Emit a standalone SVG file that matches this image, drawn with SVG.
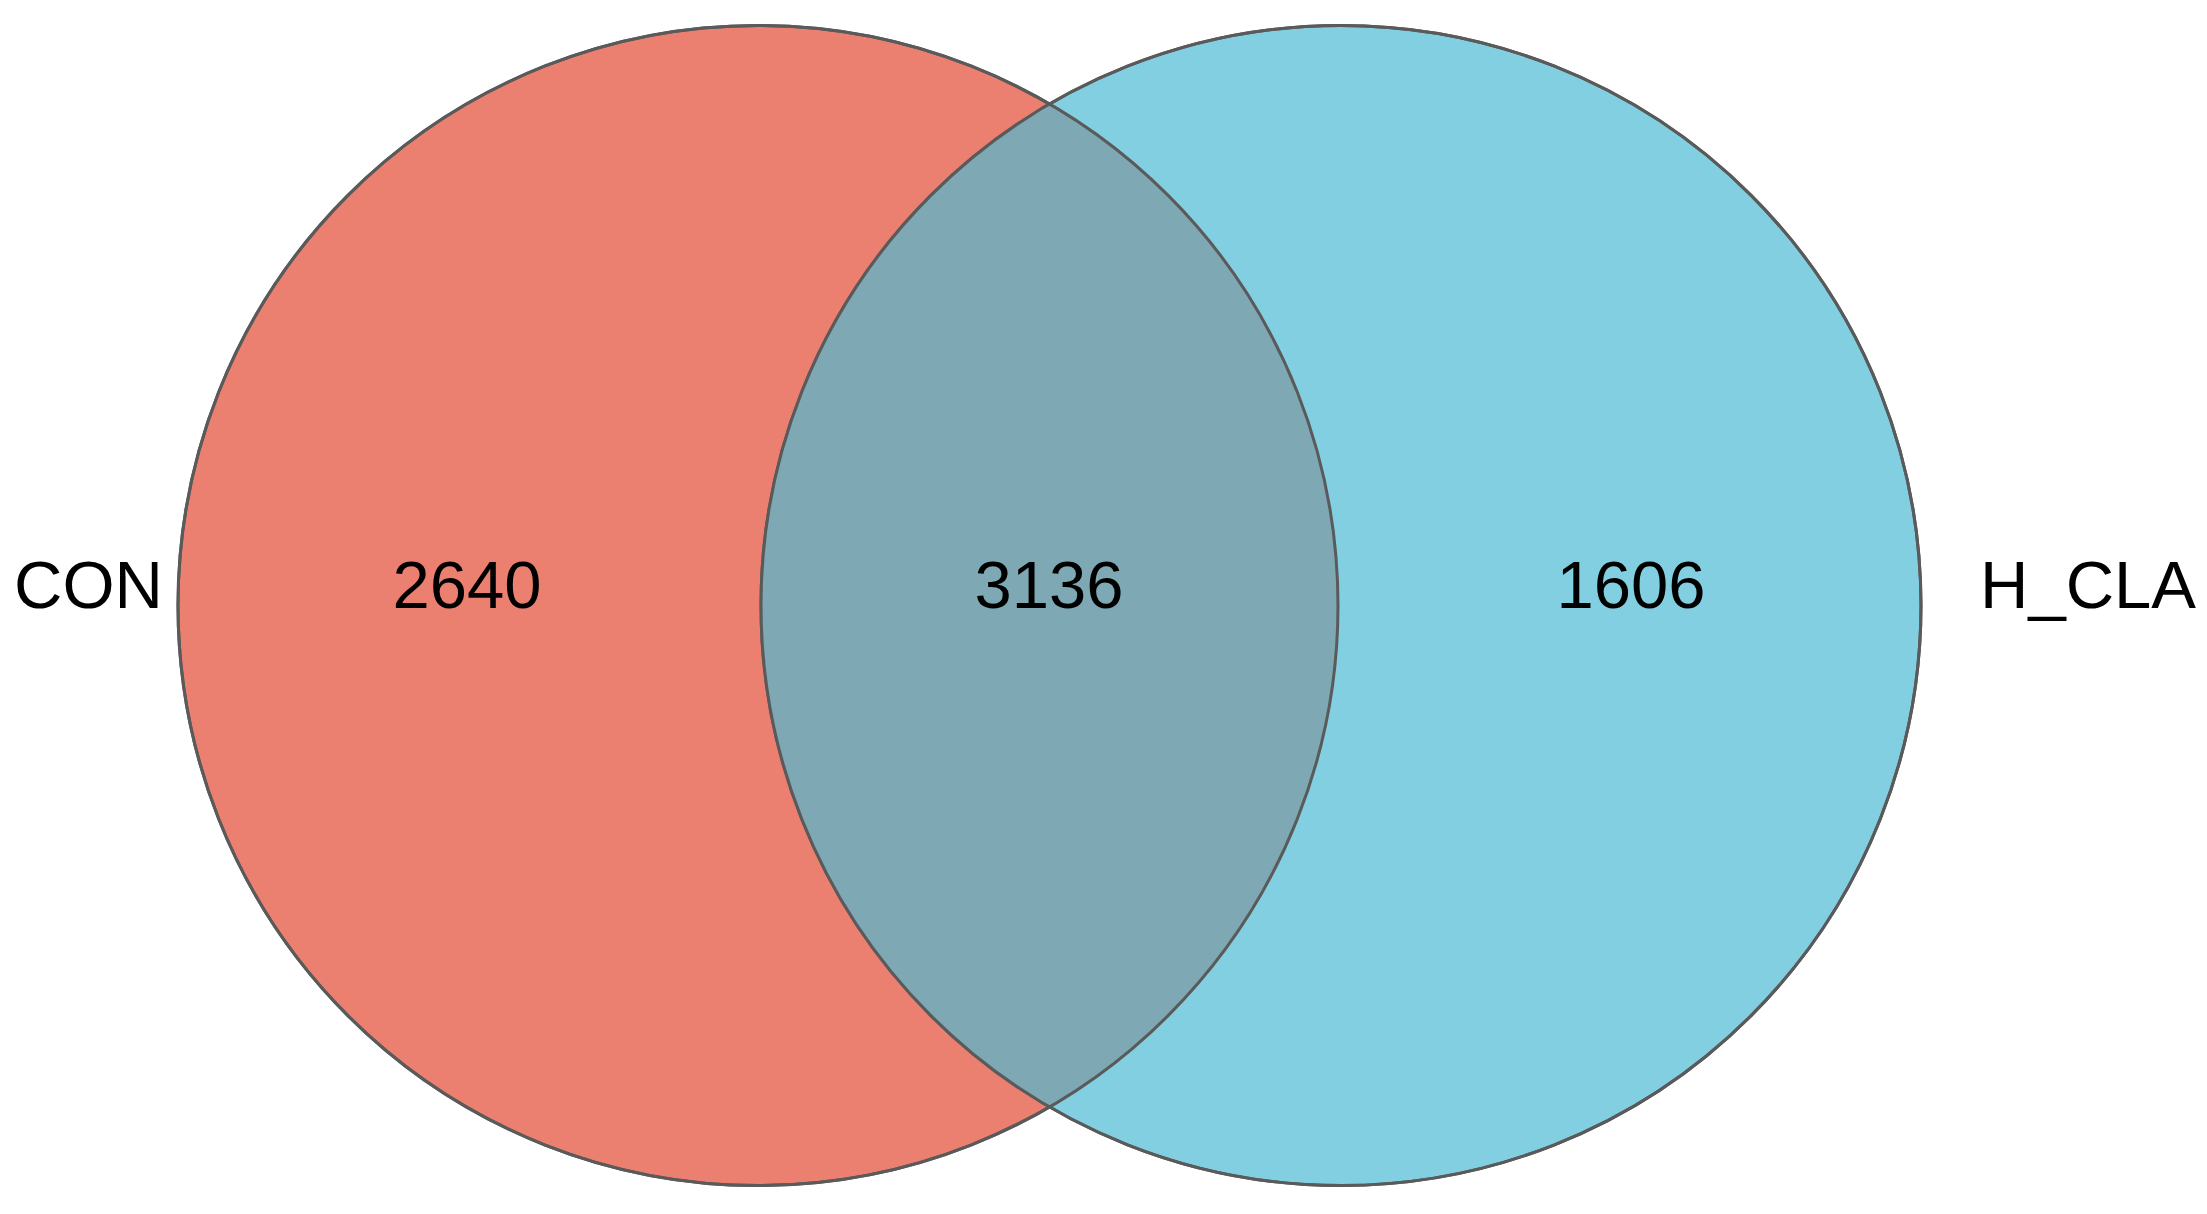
<svg xmlns="http://www.w3.org/2000/svg" width="2207" height="1214" viewBox="0 0 2207 1214">
<style>
.lbl{font-family:"Liberation Sans",Arial,sans-serif;font-size:67px;fill:#000}
.c{stroke:#5a5a5a;stroke-width:3}
</style>
<defs>
<clipPath id="clipL"><circle cx="758" cy="605.5" r="580"/></clipPath>
</defs>
<rect width="2207" height="1214" fill="#fff"/>
<g id="set-con">
<circle class="c" cx="758" cy="605.5" r="580" fill="#EC8070"/>
</g>
<g id="set-hcla">
<circle class="c" cx="1341" cy="605.5" r="580" fill="#83CFE2"/>
</g>
<g id="overlap">
<circle cx="1341" cy="605.5" r="580" fill="#7DA8B4" clip-path="url(#clipL)"/>
<circle cx="758" cy="605.5" r="580" fill="none" stroke="#5a5a5a" stroke-width="3"/>
<circle cx="1341" cy="605.5" r="580" fill="none" stroke="#5a5a5a" stroke-width="3"/>
</g>
<g id="labels">
<text class="lbl" x="14" y="608">CON</text>
<text class="lbl" x="1980" y="608">H_CLA</text>
<text class="lbl" x="467" y="608" text-anchor="middle">2640</text>
<text class="lbl" x="1049" y="608" text-anchor="middle">3136</text>
<text class="lbl" x="1631" y="608" text-anchor="middle">1606</text>
</g>
<g id="connectors"/>
</svg>
